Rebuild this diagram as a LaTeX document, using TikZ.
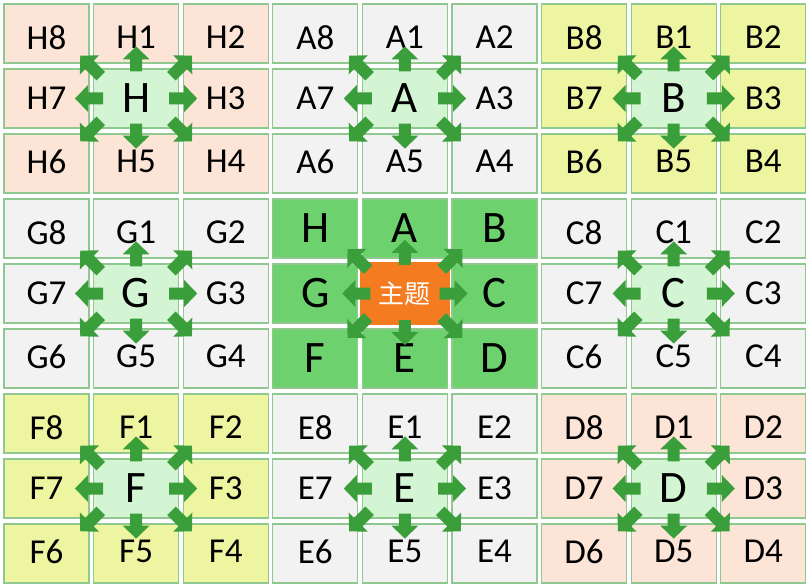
\documentclass[tikz,border=0pt]{standalone}
\usepackage{fontspec}
\setmainfont{Carlito}
\newfontfamily\cjkfont{Noto Sans CJK SC}
\usetikzlibrary{calc}
\definecolor{peachc}{HTML}{FCE4D6}
\definecolor{grayc}{HTML}{F2F2F2}
\definecolor{yellowc}{HTML}{EEF5A0}
\definecolor{midg}{HTML}{6DD26D}
\definecolor{lightg}{HTML}{D4F5D4}
\definecolor{orangec}{HTML}{F47B20}
\definecolor{borderg}{HTML}{8FC98F}
\definecolor{arrowg}{HTML}{3A9E3A}
% block arrow: #1 base point, #2 angle, #3 start offset, #4 tip offset
\newcommand\barr[4]{%
  \fill[arrowg, shift={#1}, rotate=#2]
    (#3,-6) -- ({#4-13},-6) -- ({#4-13},-13.5) -- (#4,0) -- ({#4-13},13.5)
    -- ({#4-13},6) -- (#3,6) -- cycle;}
\newcommand\arrowsaround[1]{%
  \barr{(#1.east)}{0}{-10}{18}
  \barr{(#1.west)}{180}{-10}{18}
  \barr{(#1.north)}{90}{-3}{22}
  \barr{(#1.south)}{-90}{-5}{20}
  \barr{(#1.north west)}{135}{-11}{18}
  \barr{(#1.north east)}{45}{-11}{18}
  \barr{(#1.south west)}{225}{-11}{18}
  \barr{(#1.south east)}{-45}{-11}{18}
}
\begin{document}
\begin{tikzpicture}[x=1pt,y=-1pt,
  cell/.style={draw=borderg, line width=1.2pt, minimum width=85pt, minimum height=59pt,
    inner sep=0pt, font=\fontsize{35}{35}\selectfont, text=black},
  bigcell/.style={cell, font=\fontsize{45}{45}\selectfont}]
\useasboundingbox (0,0) rectangle (810,588);
\foreach \bk/\i/\j/\col in {H/0/0/peachc, A/1/0/grayc, B/2/0/yellowc, G/0/1/grayc,
                            C/2/1/grayc, F/0/2/yellowc, E/1/2/grayc, D/2/2/peachc} {
  \foreach \k/\di/\dj/\dy in {8/0/0/-4,1/1/0/-4,2/2/0/-4,7/0/1/0,3/2/1/0,6/0/2/2,5/1/2/2,4/2/2/2} {
    \node[cell, fill=\col] (\bk\k) at ({46.5+89.6*(3*\i+\di)}, {33.5+65*(3*\j+\dj)})
      {\raisebox{\dy pt}[\height][\depth]{\bk\k}};
  }
  \node[bigcell, fill=lightg] (\bk c) at ({46.5+89.6*(3*\i+1)}, {33.5+65*(3*\j+1)}) {\bk};
  \arrowsaround{\bk c}
}
\foreach \bk/\di/\dj in {H/0/0, A/1/0, B/2/0, G/0/1, C/2/1, F/0/2, E/1/2, D/2/2} {
  \node[bigcell, fill=midg] (m\bk) at ({46.5+89.6*(3+\di)}, {33.5+65*(3+\dj)}) {\bk};
}
\node[cell, fill=orangec, draw=orangec, text=white, minimum width=88pt, minimum height=62pt,
  font=\cjkfont\fontsize{26}{26}\selectfont]
  (main) at ({46.5+89.6*4}, {33.5+65*4}) {主题};
\arrowsaround{main}
\end{tikzpicture}
\end{document}
